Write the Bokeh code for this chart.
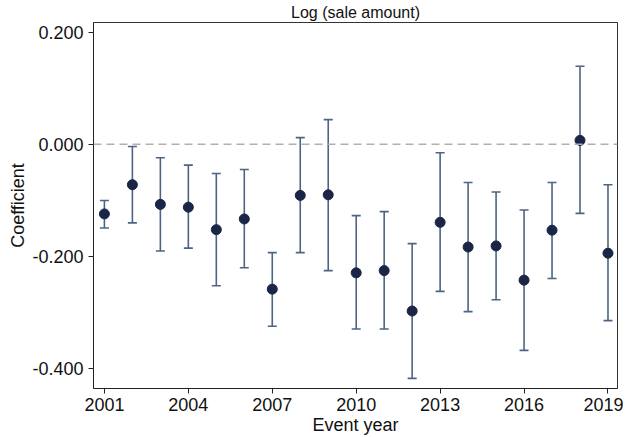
from bokeh.plotting import figure
from bokeh.models import ColumnDataSource, Span, FixedTicker, NumeralTickFormatter, Range1d
from bokeh.embed import file_html
from bokeh.resources import INLINE

years = [2001, 2002, 2003, 2004, 2005, 2006, 2007, 2008, 2009, 2010,
         2011, 2012, 2013, 2014, 2015, 2016, 2017, 2018, 2019]
coef = [-0.124, -0.072, -0.107, -0.112, -0.152, -0.133, -0.258, -0.091, -0.090, -0.229,
        -0.225, -0.297, -0.139, -0.183, -0.181, -0.242, -0.153, 0.007, -0.194]
upper = [-0.100, -0.004, -0.024, -0.037, -0.052, -0.045, -0.193, 0.012, 0.044, -0.127,
         -0.120, -0.177, -0.015, -0.068, -0.085, -0.117, -0.068, 0.139, -0.072]
lower = [-0.149, -0.140, -0.190, -0.185, -0.252, -0.220, -0.324, -0.193, -0.225, -0.329,
         -0.329, -0.417, -0.262, -0.298, -0.277, -0.367, -0.239, -0.123, -0.314]
x_ticks = [2001, 2004, 2007, 2010, 2013, 2016, 2019]
y_ticks = [-0.4, -0.2, 0.0, 0.2]

src = ColumnDataSource(dict(x=years, y=coef, hi=upper, lo=lower))

FONT = "Liberation Sans"

p = figure(width=623, height=437, output_backend="svg", toolbar_location=None,
           x_range=Range1d(2000.61, 2019.34), y_range=Range1d(-0.435, 0.217),
           title="Log (sale amount)")
p.min_border_left = 93
p.min_border_right = 6
p.min_border_top = 22
p.min_border_bottom = 49

p.title.text_font = FONT
p.title.text_font_size = "16px"
p.title.text_font_style = "normal"
p.title.text_color = "#111111"
p.title.align = "center"
p.title.offset = 0
p.title.standoff = 3

p.grid.visible = False
p.background_fill_color = "white"
p.border_fill_color = "white"
p.outline_line_color = "#333333"
p.outline_line_width = 1

zero = Span(location=0, dimension="width", line_color="#b0b0b0", line_width=1.4, line_dash="8 5")
p.add_layout(zero)

p.segment(x0="x", y0="lo", x1="x", y1="hi", source=src, line_color="#4d6482", line_width=1.6)
p.scatter(x="x", y="hi", source=src, marker="dash", size=9, line_color="#4d6482", line_width=1.6)
p.scatter(x="x", y="lo", source=src, marker="dash", size=9, line_color="#4d6482", line_width=1.6)
p.scatter(x="x", y="y", source=src, marker="circle", size=10, fill_color="#1b2646", line_color="#1b2646")

p.xaxis.ticker = FixedTicker(ticks=x_ticks)
p.yaxis.ticker = FixedTicker(ticks=y_ticks)
p.yaxis.formatter = NumeralTickFormatter(format="0.000")
for ax in (p.xaxis, p.yaxis):
    ax.axis_line_color = "#222222"
    ax.major_tick_line_color = "#222222"
    ax.major_tick_out = 5
    ax.major_tick_in = 0
    ax.minor_tick_line_color = None
    ax.major_label_text_font = FONT
    ax.major_label_text_font_size = "18px"
    ax.major_label_text_color = "#111111"
    ax.axis_label_text_font = FONT
    ax.axis_label_text_font_size = "18px"
    ax.axis_label_text_font_style = "normal"
    ax.axis_label_text_color = "#111111"
p.xaxis.major_label_standoff = 4
p.yaxis.major_label_standoff = 5
p.xaxis.axis_label = "Event year"
p.yaxis.axis_label = "Coefficient"
p.xaxis.axis_label_standoff = 1
p.yaxis.axis_label_standoff = 1

open("out.html", "w").write(file_html(p, INLINE))
